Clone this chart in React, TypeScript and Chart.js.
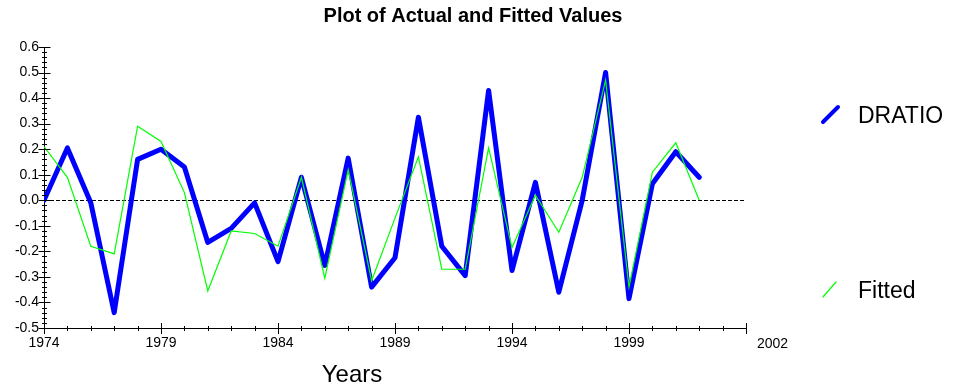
import React, { useEffect, useRef } from "react";
import { Chart, registerables } from "chart.js";

Chart.register(...registerables);

const years = [
  1974, 1975, 1976, 1977, 1978, 1979, 1980, 1981, 1982, 1983, 1984, 1985, 1986, 1987, 1988,
  1989, 1990, 1991, 1992, 1993, 1994, 1995, 1996, 1997, 1998, 1999, 2000, 2001, 2002,
];

const dratio = [
  0.0, 0.205, -0.01, -0.44, 0.16, 0.2, 0.13, -0.165, -0.11, -0.01, -0.24, 0.09, -0.255, 0.165, -0.34,
  -0.225, 0.325, -0.18, -0.295, 0.43, -0.275, 0.07, -0.36, 0.0, 0.5, -0.385, 0.065, 0.19, 0.09,
];

const fitted = [
  0.21, 0.09, -0.18, -0.21, 0.29, 0.23, 0.03, -0.355, -0.12, -0.13, -0.18, 0.09, -0.305, 0.12, -0.315,
  -0.07, 0.17, -0.27, -0.27, 0.205, -0.185, 0.02, -0.125, 0.09, 0.47, -0.34, 0.11, 0.225, 0.0,
];

const xLabelYears = [1974, 1979, 1984, 1989, 1994, 1999];
const xEndLabel = "2002";
const xMin = 1974;
const xMax = 2004;
const yMin = -0.5;
const yMax = 0.6;

const titleText = "Plot of Actual and Fitted Values";
const xTitle = "Years";
const seriesNames = ["DRATIO", "Fitted"];

const FONT = "'Liberation Sans', Arial, sans-serif";

const isMajorY = (v: number) => Math.abs(Math.round(v * 10) - v * 10) < 1e-6;

const extrasPlugin = {
  id: "extras",
  beforeDatasetsDraw(chart: any) {
    const { ctx, chartArea, scales } = chart;
    const y0 = scales.y.getPixelForValue(0);
    ctx.save();
    ctx.strokeStyle = "#000";
    ctx.lineWidth = 1;
    ctx.setLineDash([4, 2]);
    ctx.beginPath();
    ctx.moveTo(chartArea.left, Math.round(y0) + 0.5);
    ctx.lineTo(chartArea.right, Math.round(y0) + 0.5);
    ctx.stroke();
    ctx.restore();
  },
  afterDraw(chart: any) {
    const { ctx, chartArea, scales } = chart;
    const xs = scales.x;
    const ys = scales.y;
    ctx.save();
    ctx.strokeStyle = "#000";
    ctx.lineWidth = 1;
    ctx.setLineDash([]);
    const ax = chartArea.left + 0.5;
    ys.ticks.forEach((t: any) => {
      const py = Math.round(ys.getPixelForValue(t.value)) + 0.5;
      const major = isMajorY(t.value);
      ctx.beginPath();
      ctx.moveTo(ax - (major ? 6 : 2.5), py);
      ctx.lineTo(ax + (major ? 6 : 2.5), py);
      ctx.stroke();
    });
    const ay = chartArea.bottom + 0.5;
    xs.ticks.forEach((t: any) => {
      const px = Math.round(xs.getPixelForValue(t.value)) + 0.5;
      const major = xLabelYears.includes(t.value) || t.value === xMax;
      ctx.beginPath();
      ctx.moveTo(px, ay - (major ? 5.5 : 2.5));
      ctx.lineTo(px, ay + (major ? 5.5 : 2.5));
      ctx.stroke();
    });
    ctx.fillStyle = "#000";
    ctx.font = `14px ${FONT}`;
    ctx.textAlign = "left";
    ctx.textBaseline = "alphabetic";
    ctx.fillText(xEndLabel, xs.getPixelForValue(xMax) + 11, 348);
    ctx.font = `bold 20px ${FONT}`;
    ctx.textAlign = "center";
    ctx.fillText(titleText, 473, 22);
    ctx.font = `24px ${FONT}`;
    ctx.fillText(xTitle, 352, 382);
    ctx.lineCap = "round";
    ctx.strokeStyle = "#0000ff";
    ctx.lineWidth = 4;
    ctx.beginPath();
    ctx.moveTo(823, 122);
    ctx.lineTo(838, 107);
    ctx.stroke();
    ctx.strokeStyle = "#00ff00";
    ctx.lineWidth = 1.2;
    ctx.beginPath();
    ctx.moveTo(823, 297);
    ctx.lineTo(836, 282);
    ctx.stroke();
    ctx.font = `23px ${FONT}`;
    ctx.textAlign = "left";
    ctx.fillStyle = "#000";
    ctx.fillText(seriesNames[0], 858, 123);
    ctx.fillText(seriesNames[1], 858, 298);
    ctx.restore();
  },
};

export default function App() {
  const ref = useRef<HTMLCanvasElement | null>(null);

  useEffect(() => {
    document.body.style.margin = "0";
    const canvas = ref.current;
    if (!canvas) return;
    const chart = new Chart(canvas, {
      type: "line",
      data: {
        datasets: [
          {
            label: seriesNames[0],
            data: years.map((yr, i) => ({ x: yr, y: dratio[i] })),
            borderColor: "#0000ff",
            borderWidth: 5,
            borderJoinStyle: "round",
            borderCapStyle: "round",
            pointRadius: 0,
            tension: 0,
            order: 1,
          },
          {
            label: seriesNames[1],
            data: years.map((yr, i) => ({ x: yr, y: fitted[i] })),
            borderColor: "#00ff00",
            borderWidth: 1.2,
            pointRadius: 0,
            tension: 0,
            order: 0,
          },
        ],
      },
      options: {
        animation: false,
        responsive: false,
        layout: { padding: { left: 0, top: 47, right: 210, bottom: 0 } },
        plugins: {
          legend: { display: false },
          title: { display: false },
          tooltip: { enabled: false },
        },
        scales: {
          x: {
            type: "linear",
            min: xMin,
            max: xMax,
            grid: { display: false, drawTicks: false },
            border: { display: true, color: "#000", width: 1 },
            afterFit: (s: any) => {
              s.height = 61;
            },
            ticks: {
              stepSize: 1,
              autoSkip: false,
              maxRotation: 0,
              padding: 7,
              color: "#000",
              font: { family: FONT, size: 14 },
              callback: (v: any) => (xLabelYears.includes(Number(v)) ? String(v) : ""),
            },
          },
          y: {
            type: "linear",
            min: yMin,
            max: yMax,
            grid: { display: false, drawTicks: false },
            border: { display: true, color: "#000", width: 1 },
            afterFit: (s: any) => {
              s.width = 44;
            },
            ticks: {
              stepSize: 0.02,
              autoSkip: false,
              padding: 5,
              color: "#000",
              font: { family: FONT, size: 14 },
              callback: (v: any) => {
                const n = Number(v);
                return isMajorY(n) ? (Math.round(n * 10) / 10).toFixed(1) : "";
              },
            },
          },
        },
      },
      plugins: [extrasPlugin],
    });
    return () => chart.destroy();
  }, []);

  return (
    <div style={{ position: "absolute", left: 0, top: 0, width: 956, height: 389, background: "#fff" }}>
      <canvas ref={ref} width={956} height={389} />
    </div>
  );
}
